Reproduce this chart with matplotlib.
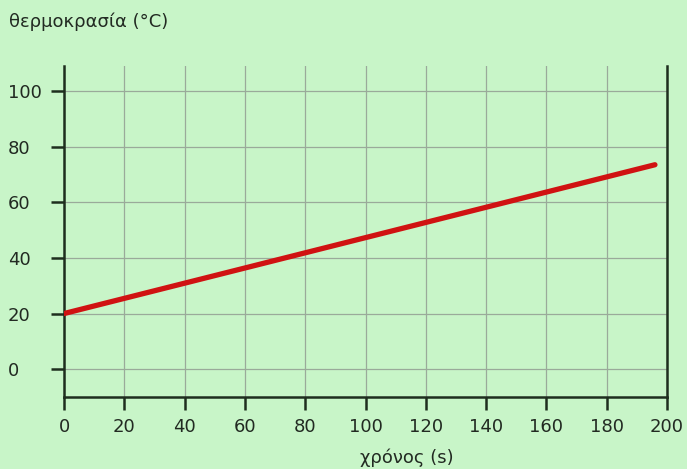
import matplotlib.pyplot as plt

# data
time_s = [0, 196]
temp_c = [20, 73.5]
x_ticks = [0, 20, 40, 60, 80, 100, 120, 140, 160, 180, 200]
y_ticks = [0, 20, 40, 60, 80, 100]

plt.rcParams['font.family'] = ['DejaVu Sans']
bg = '#c8f5c8'
ink = '#222a22'

fig = plt.figure(figsize=(6.87, 4.69), dpi=100, facecolor=bg)
ax = fig.add_axes([64/687, 1-397/469, (667-64)/687, (397-66)/469], facecolor=bg)

ax.plot(time_s, temp_c, c='#d01212', lw=3.8, solid_capstyle='round', zorder=3)

ax.set_xlim(0, 200)
ax.set_ylim(-10, 109)
ax.set_xticks(x_ticks)
ax.set_yticks(y_ticks)
ax.grid(True, color='#9aaa9a', lw=0.9)

for s in ['left', 'bottom', 'right']:
    ax.spines[s].set_color('#1e2e1e')
    ax.spines[s].set_linewidth(1.8)
ax.spines['top'].set_visible(False)

ax.tick_params(axis='x', direction='out', length=9, width=1.8, color='#1e2e1e',
               labelsize=13, labelcolor=ink, pad=6)
ax.tick_params(axis='y', direction='out', length=9.5, width=1.8, color='#1e2e1e',
               labelsize=13, labelcolor=ink, pad=31)
for lab in ax.get_yticklabels():
    lab.set_horizontalalignment('left')

fig.text(9/687, 1-22/469, 'θερμοκρασία (°C)', fontsize=13, color=ink, va='center', ha='left')
fig.text(407/687, 1-458/469, 'χρόνος (s)', fontsize=13, color=ink, va='center', ha='center')

plt.savefig('out.png', dpi=100, facecolor=bg)
